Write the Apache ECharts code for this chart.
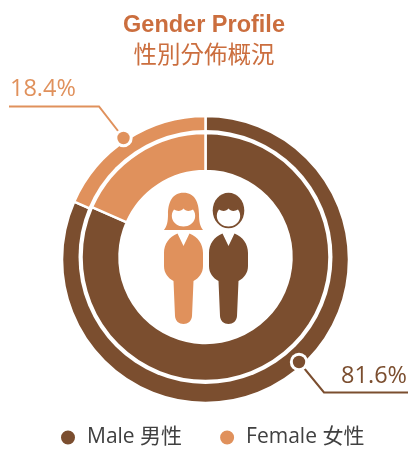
<!DOCTYPE html>
<html><head><meta charset="utf-8">
<style>html,body{margin:0;padding:0;background:#fff}#c{width:408px;height:449px}</style>
<script src="https://cdn.jsdelivr.net/npm/echarts@6/dist/echarts.min.js"></script>
</head><body><div id="c"></div>
<script>
const categories = ['Male 男性', 'Female 女性'];
const shares = [81.6, 18.4];
const titleEn = 'Gender Profile';
const titleZh = '性別分佈概況';
const BROWN = '#7b4e2f', ORANGE = '#e0915c', TITLE = '#cb6e3e', TEXT = '#404040';
const sans = '"Open Sans","Noto Sans CJK TC",sans-serif';

const pieData = categories.map((n, i) => ({ name: n, value: shares[i], itemStyle: { color: i === 0 ? BROWN : ORANGE } }));
const pieBase = {
  type: 'pie', startAngle: 90, clockwise: true, silent: true, animation: false,
  label: { show: false }, labelLine: { show: false },
  emphasis: { disabled: true }, data: pieData
};
const icons = {
  iconBody: 'M177.5,233.5 C169,237 164,244 164,253 L164,266 C164,273 168,278 173.5,281 L175,316 C175.3,321 179,324 183.5,324 C188,324 191.7,321 192,316 L193.5,281 C199,278 203,273 203,266 L203,253 C203,244 198,237 189.5,233.5 L183.5,246 Z',
  iconHair: 'M183.5,192.7 C172,192.7 168,203 168,214 C168,222 167,226 164,230 L203,230 C200,226 199,222 199,214 C199,203 195,192.7 183.5,192.7 Z',
  iconFace: 'M174,209.5 C177,211.5 181.5,211.5 183.5,208.5 C185.5,211.5 190,211.5 193,209.5 C195,212 195.5,215 195,218 C193.5,223.5 189,226.5 183.5,226.5 C178,226.5 173.5,223.5 172,218 C171.5,215 172,212 174,209.5 Z'
};
Object.keys(icons).forEach(k => echarts.graphic.registerShape(k, echarts.graphic.extendPath(icons[k], {})));
const icon = (type, color, x, z) => ({ type, z, x, silent: true, shape: {}, style: { fill: color } });

const leader = (pts, color) => ({ type: 'polyline', z: 4, silent: true, shape: { points: pts }, style: { stroke: color, lineWidth: 2, fill: null } });
const dot = (x, y, color) => [
  { type: 'circle', z: 5, silent: true, shape: { cx: x, cy: y, r: 9.2 }, style: { fill: '#fff' } },
  { type: 'circle', z: 6, silent: true, shape: { cx: x, cy: y, r: 6.2 }, style: { fill: color } }
];
const pct = (v, x, y, color, align) => ({ type: 'text', z: 6, silent: true, x, y, style: { text: v.toFixed(1) + '%', fill: color, font: '400 23.5px ' + sans, align, verticalAlign: 'middle' } });

const chart = echarts.init(document.getElementById('c'), null, { renderer: 'canvas' });
chart.setOption({
  animation: false,
  backgroundColor: '#fff',
  title: [
    { text: titleEn, left: 'center', top: 9, textStyle: { color: TITLE, fontSize: 23.5, fontWeight: 'bold', fontFamily: '"Liberation Sans",Arial,sans-serif' } },
    { text: titleZh, left: 'center', top: 37, textStyle: { color: TITLE, fontSize: 23.5, fontWeight: 'normal', fontFamily: '"Noto Sans CJK TC",sans-serif' } }
  ],
  legend: {
    left: 59, top: 427, padding: 0, itemGap: 36, itemWidth: 16, itemHeight: 16, icon: 'circle', selectedMode: false,
    data: categories,
    textStyle: { color: TEXT, fontSize: 21, fontFamily: sans, padding: [0, 0, 0, 6] }
  },
  series: [
    Object.assign({}, pieBase, { z: 1, center: [205.5, 259.5], radius: [0, 143.5], itemStyle: { borderColor: '#fff', borderWidth: 2.5 } }),
    Object.assign({}, pieBase, { z: 3, center: [205.5, 257], radius: [86, 124], itemStyle: { borderColor: '#fff', borderWidth: 2.5 } })
  ],
  graphic: [
    { type: 'circle', z: 2, silent: true, shape: { cx: 205.5, cy: 257, r: 127 }, style: { fill: '#fff' } },
    icon('iconHair', ORANGE, 0, 4),
    icon('iconFace', '#fff', 0, 5),
    icon('iconBody', ORANGE, 0, 4),
    { type: 'ellipse', z: 4, silent: true, shape: { cx: 228.5, cy: 210.5, rx: 15.8, ry: 17.8 }, style: { fill: BROWN } },
    icon('iconFace', '#fff', 45, 5),
    icon('iconBody', BROWN, 45, 4),
    leader([[9, 106.5], [99, 106.5], [123.5, 138]], ORANGE),
    leader([[299, 362], [324, 392.5], [408, 392.5]], BROWN),
    ...dot(123.5, 138, ORANGE),
    ...dot(299, 362, BROWN),
    pct(shares[1], 10, 89, ORANGE, 'left'),
    pct(shares[0], 407, 376, BROWN, 'right')
  ]
});
</script></body></html>
